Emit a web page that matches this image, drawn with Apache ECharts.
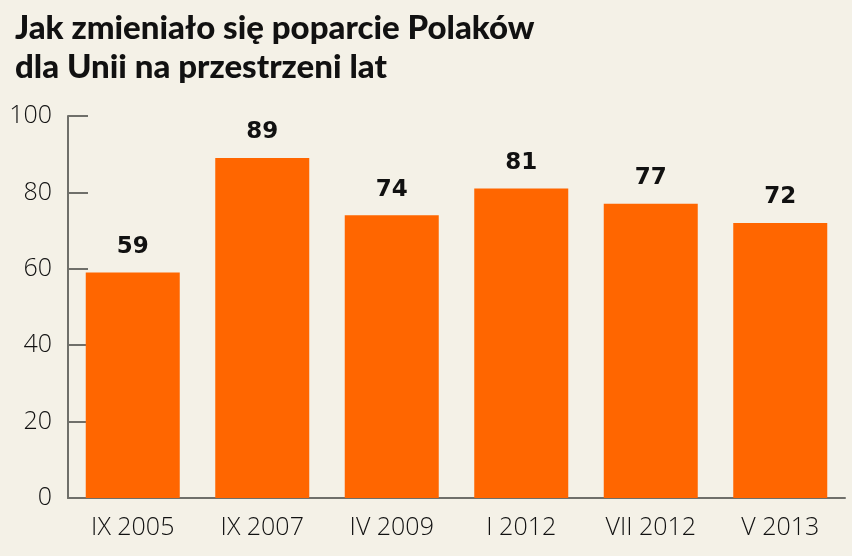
<!DOCTYPE html>
<html><head><meta charset="utf-8">
<script src="https://cdn.jsdelivr.net/npm/echarts@6/dist/echarts.min.js"></script>
<style>html,body{margin:0;padding:0;background:#f4f1e7;}#c{width:852px;height:556px;}</style>
</head><body><div id="c"></div>
<script>
const titleLines = ['Jak zmieniało się poparcie Polaków', 'dla Unii na przestrzeni lat'];
const categories = ['IX 2005', 'IX 2007', 'IV 2009', 'I 2012', 'VII 2012', 'V 2013'];
const values = [59, 89, 74, 81, 77, 72];
const yTicks = [0, 20, 40, 60, 80, 100];

const chart = echarts.init(document.getElementById('c'));
chart.setOption({
  backgroundColor: '#f4f1e7',
  animation: false,
  title: {
    text: titleLines.join('\n'),
    left: 10, top: 4,
    textStyle: { fontFamily: 'Lato', fontWeight: 900, fontSize: 33, lineHeight: 39, color: '#111' }
  },
  grid: { left: 68, right: 7, top: 116, bottom: 58 },
  xAxis: {
    type: 'category', data: categories,
    axisLine: { lineStyle: { color: '#6f6f6a', width: 2 } },
    axisTick: { inside: true, length: 8, lineStyle: { color: '#6f6f6a', width: 2 } },
    axisLabel: { color: '#111', fontFamily: 'Open Sans', fontWeight: 300, fontSize: 25, margin: 17 }
  },
  yAxis: {
    type: 'value', min: yTicks[0], max: yTicks[yTicks.length - 1], interval: 20,
    splitLine: { show: false },
    axisLine: { show: true, lineStyle: { color: '#6f6f6a', width: 2 } },
    axisTick: { show: true, inside: true, length: 20, lineStyle: { color: '#6f6f6a', width: 2 } },
    axisLabel: { color: '#111', fontFamily: 'Open Sans', fontWeight: 300, fontSize: 25, margin: 16, padding: [4, 0, 0, 0] }
  },
  series: [{
    type: 'bar', data: values, barWidth: 94,
    itemStyle: { color: '#ff6600' },
    label: { show: true, position: 'top', distance: 14, color: '#111', fontFamily: 'DejaVu Sans', fontWeight: 'bold', fontSize: 23 }
  }]
});
</script></body></html>
